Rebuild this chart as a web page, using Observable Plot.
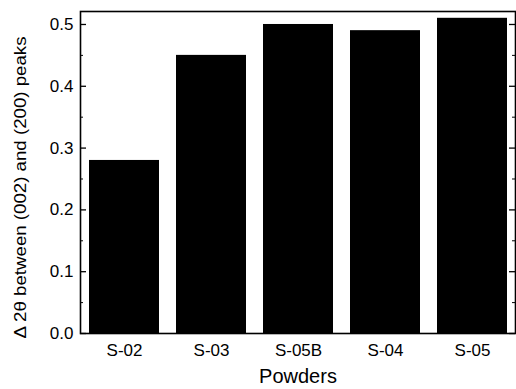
<!DOCTYPE html>
<html>
<head>
<meta charset="utf-8">
<script src="https://cdn.jsdelivr.net/npm/d3@7"></script>
<script src="https://cdn.jsdelivr.net/npm/@observablehq/plot@0.6"></script>
<style>
  html, body { margin: 0; padding: 0; background: #fff; }
  svg { display: block; }
</style>
</head>
<body>
<div id="chart"></div>
<script>
const powders = ["S-02", "S-03", "S-05B", "S-04", "S-05"];
const delta = [0.28, 0.45, 0.50, 0.49, 0.51];
const yMajor = [0.0, 0.1, 0.2, 0.3, 0.4, 0.5];
const yMinor = [0.05, 0.15, 0.25, 0.35, 0.45];
const yTitle = "Δ 2θ between (002) and (200) peaks";
const xTitle = "Powders";

const data = powders.map((p, i) => ({powder: p, value: delta[i]}));

const W = 516, H = 389;
const mL = 80, mR = 1, mT = 11, mB = 56;
const frameW = W - mL - mR;

const chart = Plot.plot({
  width: W,
  height: H,
  marginLeft: mL,
  marginRight: mR,
  marginTop: mT,
  marginBottom: mB,
  style: {fontFamily: "'Liberation Sans', Arial, sans-serif", color: "#000", background: "#fff"},
  x: {type: "band", domain: powders, range: [87, 510], paddingInner: 0.19, paddingOuter: 0},
  y: {domain: [0, 0.521]},
  marks: [
    Plot.barY(data, {x: "powder", y: "value", fill: "#000"}),
    Plot.tickY(yMajor, {y: d => d, insetRight: frameW - 6, stroke: "#000", strokeWidth: 1.3}),
    Plot.tickY(yMajor, {y: d => d, insetLeft: frameW - 6, stroke: "#000", strokeWidth: 1.3}),
    Plot.tickY(yMinor, {y: d => d, insetRight: frameW - 3, stroke: "#000", strokeWidth: 1}),
    Plot.tickY(yMinor, {y: d => d, insetLeft: frameW - 3, stroke: "#000", strokeWidth: 1}),
    Plot.axisY({ticks: yMajor, tickSize: 0, tickPadding: 7, tickFormat: d3.format(".1f"), fontSize: 17, label: null}),
    Plot.axisX({tickSize: 0, tickPadding: 10, fontSize: 17, label: null}),
    Plot.frame({stroke: "#000", strokeWidth: 1.6}),
    Plot.text([yTitle], {frameAnchor: "left", dx: 20 - mL, dy: 15, rotate: -90, fontSize: 16.5, fill: "#000", textAnchor: "middle", lineAnchor: "middle"}),
    Plot.text([xTitle], {frameAnchor: "bottom", dy: 43, fontSize: 20, fill: "#000", textAnchor: "middle", lineAnchor: "middle"})
  ]
});
Array.from(chart.querySelectorAll("text"))
  .filter(e => e.textContent === yTitle)
  .forEach(e => { e.setAttribute("textLength", 302); e.setAttribute("lengthAdjust", "spacingAndGlyphs"); });
document.getElementById("chart").appendChild(chart);
</script>
</body>
</html>
